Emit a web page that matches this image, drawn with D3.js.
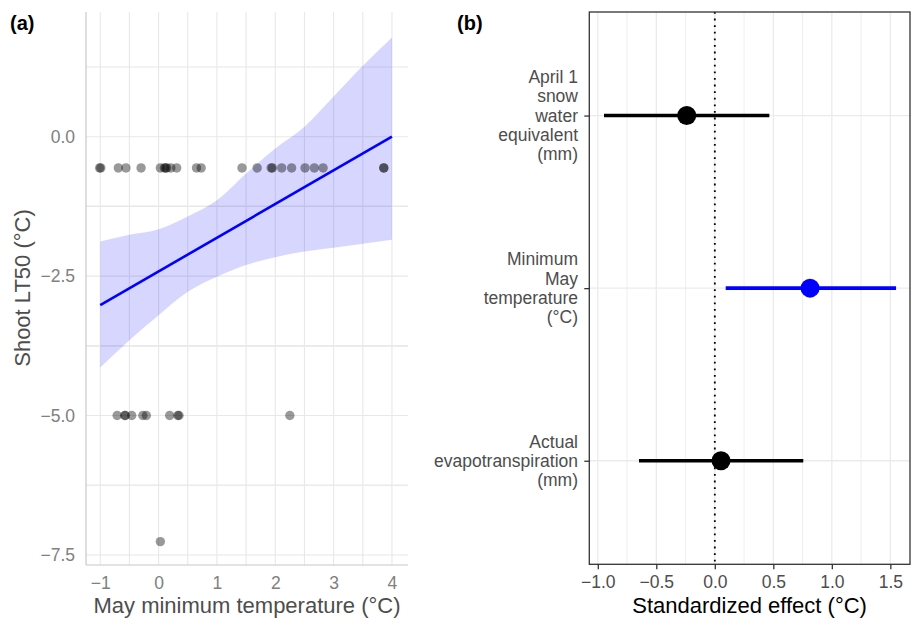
<!DOCTYPE html>
<html>
<head>
<meta charset="utf-8">
<script src="https://cdn.jsdelivr.net/npm/d3@7"></script>
<style>
	body { margin: 0; background: #fff; }
	text { font-family: "Liberation Sans", Arial, sans-serif; }
</style>
</head>
<body>
<script>
//panel (a) data: shoot LT50 vs May minimum temperature
var mayTemp = [-1.01, -0.99, -0.69, -0.56, -0.30, 0.03, 0.10, 0.12, 0.14, 0.21, 0.31, 0.65, 0.73,
	1.43, 1.69, 1.93, 1.95, 2.11, 2.28, 2.51, 2.67, 2.82, 3.86, 3.86,
	-0.71, -0.58, -0.57, -0.46, -0.27, -0.21, 0.19, 0.33, 0.35, 2.25,
	0.03];
var shootLT50 = [-0.56, -0.56, -0.56, -0.56, -0.56, -0.56, -0.56, -0.56, -0.56, -0.56, -0.56, -0.56, -0.56,
	-0.56, -0.56, -0.56, -0.56, -0.56, -0.56, -0.56, -0.56, -0.56, -0.56, -0.56,
	-5.0, -5.0, -5.0, -5.0, -5.0, -5.0, -5.0, -5.0, -5.0, -5.0,
	-7.26];
//fitted line and confidence band
var fitX = [-1, 4];
var fitY = [-3.02, 0.0];
var bandX = [-1, -0.5, 0, 0.5, 1, 1.5, 2, 2.5, 3, 3.5, 4];
var bandHigh = [-1.88, -1.76, -1.66, -1.43, -1.14, -0.66, -0.21, 0.18, 0.72, 1.27, 1.78];
var bandLow = [-4.14, -3.65, -3.20, -2.78, -2.51, -2.30, -2.16, -2.06, -1.99, -1.92, -1.85];
var aXTicks = [-1, 0, 1, 2, 3, 4];
var aYTicks = [0, -2.5, -5, -7.5];

//panel (b) data: standardized effects
var effectNames = ["April 1 snow water equivalent (mm)", "Minimum May temperature (°C)", "Actual evapotranspiration (mm)"];
var effectLines = [["April 1", "snow", "water", "equivalent", "(mm)"],
	["Minimum", "May", "temperature", "(°C)"],
	["Actual", "evapotranspiration", "(mm)"]];
var effectEst = [-0.24, 0.814, 0.053];
var effectLow = [-0.947, 0.093, -0.648];
var effectHigh = [0.466, 1.549, 0.756];
var effectColor = ["black", "blue", "black"];
var bXTicks = [-1.0, -0.5, 0.0, 0.5, 1.0, 1.5];

window.onload = drawFigure();

function drawFigure(){
	var width = 917,
		height = 619;

	var svg = d3.select("body")
		.append("svg")
		.attr("width", width)
		.attr("height", height);

	//----- panel (a) -----
	var xA = d3.scaleLinear().domain([-1.244, 4.275]).range([86, 408]);
	var yA = d3.scaleLinear().domain([-7.68, 2.236]).range([565, 12]);

	var a = svg.append("g").attr("class", "panelA");

	//grid lines, majors plus the halfway minors
	var aXGrid = [];
	aXTicks.forEach(function(t, i){
		aXGrid.push(t);
		if (i < aXTicks.length - 1) aXGrid.push((t + aXTicks[i + 1]) / 2);
	});
	var aYGrid = aYTicks.slice();
	aYTicks.forEach(function(t){ aYGrid.push(t - 1.25); aYGrid.push(t + 1.25); });
	aYGrid = aYGrid.filter(function(v){ return v > -7.68 && v < 2.236; });

	a.selectAll(".xgrid")
		.data(aXGrid)
		.enter()
		.append("line")
		.attr("x1", function(d){ return xA(d); })
		.attr("x2", function(d){ return xA(d); })
		.attr("y1", 12)
		.attr("y2", 565)
		.attr("stroke", "#e8e8e8")
		.attr("stroke-width", 1.1);
	a.selectAll(".ygrid")
		.data(aYGrid)
		.enter()
		.append("line")
		.attr("x1", 86)
		.attr("x2", 408)
		.attr("y1", function(d){ return yA(d); })
		.attr("y2", function(d){ return yA(d); })
		.attr("stroke", "#e8e8e8")
		.attr("stroke-width", 1.1);

	//confidence band
	var area = d3.area()
		.x(function(d, i){ return xA(bandX[i]); })
		.y0(function(d, i){ return yA(bandLow[i]); })
		.y1(function(d, i){ return yA(bandHigh[i]); })
		.curve(d3.curveMonotoneX);
	a.append("path")
		.datum(bandX)
		.attr("d", area)
		.attr("fill", "blue")
		.attr("fill-opacity", 0.16);

	//points
	a.selectAll(".pt")
		.data(mayTemp)
		.enter()
		.append("circle")
		.attr("cx", function(d){ return xA(d); })
		.attr("cy", function(d, i){ return yA(shootLT50[i]); })
		.attr("r", 4.7)
		.attr("fill", "black")
		.attr("fill-opacity", 0.4);

	//fitted line
	var line = d3.line()
		.x(function(d, i){ return xA(fitX[i]); })
		.y(function(d, i){ return yA(fitY[i]); });
	a.append("path")
		.datum(fitX)
		.attr("d", line)
		.attr("fill", "none")
		.attr("stroke", "blue")
		.attr("stroke-width", 2.6);

	//axis lines
	a.append("line").attr("x1", 86).attr("x2", 86).attr("y1", 12).attr("y2", 565)
		.attr("stroke", "#c8c8c8").attr("stroke-width", 1.2);
	a.append("line").attr("x1", 86).attr("x2", 408).attr("y1", 565).attr("y2", 565)
		.attr("stroke", "#c8c8c8").attr("stroke-width", 1.2);

	//tick labels
	var axA = a.append("g")
		.attr("transform", "translate(0,565)")
		.call(d3.axisBottom(xA).tickValues(aXTicks).tickSize(0).tickPadding(12).tickFormat(d3.format("d")));
	var ayA = a.append("g")
		.attr("transform", "translate(86,0)")
		.call(d3.axisLeft(yA).tickValues(aYTicks).tickSize(0).tickPadding(11).tickFormat(d3.format(".1f")));
	[axA, ayA].forEach(function(g){
		g.select(".domain").remove();
		g.selectAll("text")
			.attr("fill", "#808080")
			.style("font-size", "17.5px")
			.style("font-family", "'Liberation Sans', Arial, sans-serif");
	});

	//axis titles
	a.append("text")
		.attr("x", 247)
		.attr("y", 613)
		.attr("text-anchor", "middle")
		.attr("fill", "#4d4d4d")
		.style("font-size", "22px")
		.text("May minimum temperature (°C)");
	a.append("text")
		.attr("transform", "translate(30,288) rotate(-90)")
		.attr("text-anchor", "middle")
		.attr("fill", "#4d4d4d")
		.style("font-size", "22px")
		.text("Shoot LT50 (°C)");

	svg.append("text")
		.attr("x", 10)
		.attr("y", 30)
		.style("font-size", "20px")
		.style("font-weight", "bold")
		.text("(a)");

	//----- panel (b) -----
	var xB = d3.scaleLinear().domain([-1.0726, 1.668]).range([589.3, 910]);
	var yB = d3.scalePoint().domain(effectNames).range([12, 564.3]).padding(0.6);

	var b = svg.append("g").attr("class", "panelB");

	//minor vertical grid (quarters), then majors
	var bMinor = bXTicks.slice(0, -1).map(function(t){ return t + 0.25; });
	b.selectAll(".minor")
		.data(bMinor)
		.enter()
		.append("line")
		.attr("x1", function(d){ return xB(d); })
		.attr("x2", function(d){ return xB(d); })
		.attr("y1", 12)
		.attr("y2", 564.3)
		.attr("stroke", "#f0f0f0")
		.attr("stroke-width", 1.1);
	b.selectAll(".major")
		.data(bXTicks)
		.enter()
		.append("line")
		.attr("x1", function(d){ return xB(d); })
		.attr("x2", function(d){ return xB(d); })
		.attr("y1", 12)
		.attr("y2", 564.3)
		.attr("stroke", "#ebebeb")
		.attr("stroke-width", 1.3);
	b.selectAll(".hgrid")
		.data(effectNames)
		.enter()
		.append("line")
		.attr("x1", 589.3)
		.attr("x2", 910)
		.attr("y1", function(d){ return yB(d); })
		.attr("y2", function(d){ return yB(d); })
		.attr("stroke", "#ebebeb")
		.attr("stroke-width", 1.3);

	//zero reference
	b.append("line")
		.attr("x1", xB(0)).attr("x2", xB(0))
		.attr("y1", 12).attr("y2", 564.3)
		.attr("stroke", "black")
		.attr("stroke-width", 1.8)
		.attr("stroke-dasharray", "1.8,4.8");

	//intervals and estimates
	b.selectAll(".ci")
		.data(effectNames)
		.enter()
		.append("line")
		.attr("x1", function(d, i){ return xB(effectLow[i]); })
		.attr("x2", function(d, i){ return xB(effectHigh[i]); })
		.attr("y1", function(d){ return yB(d); })
		.attr("y2", function(d){ return yB(d); })
		.attr("stroke", function(d, i){ return effectColor[i]; })
		.attr("stroke-width", 3.6);
	b.selectAll(".est")
		.data(effectNames)
		.enter()
		.append("circle")
		.attr("cx", function(d, i){ return xB(effectEst[i]); })
		.attr("cy", function(d){ return yB(d); })
		.attr("r", 9.5)
		.attr("fill", function(d, i){ return effectColor[i]; });

	//panel border
	b.append("rect")
		.attr("x", 589.3).attr("y", 12)
		.attr("width", 910 - 589.3).attr("height", 564.3 - 12)
		.attr("fill", "none")
		.attr("stroke", "#333")
		.attr("stroke-width", 1.3);

	//x axis
	var axB = b.append("g")
		.attr("transform", "translate(0,564.3)")
		.call(d3.axisBottom(xB).tickValues(bXTicks).tickSize(5).tickPadding(6).tickFormat(d3.format(".1f")));
	axB.select(".domain").remove();
	axB.selectAll("line").attr("stroke", "#333").attr("stroke-width", 1.3);
	axB.selectAll("text")
		.attr("fill", "#4d4d4d")
		.style("font-size", "17.5px")
		.style("font-family", "'Liberation Sans', Arial, sans-serif");

	//y axis with wrapped labels
	var ayB = b.append("g")
		.attr("transform", "translate(589.3,0)")
		.call(d3.axisLeft(yB).tickSize(5).tickFormat(""));
	ayB.select(".domain").remove();
	ayB.selectAll("line").attr("stroke", "#333").attr("stroke-width", 1.3);

	var lineGap = 19.2;
	effectNames.forEach(function(name, i){
		var lines = effectLines[i];
		var y0 = yB(name) - (lines.length - 1) * lineGap / 2;
		var t = b.append("text")
			.attr("text-anchor", "end")
			.attr("fill", "#4d4d4d")
			.style("font-size", "17.5px");
		lines.forEach(function(s, j){
			t.append("tspan")
				.attr("x", 578)
				.attr("y", y0 + j * lineGap)
				.attr("dy", "0.35em")
				.text(s);
		});
	});

	b.append("text")
		.attr("x", 749.6)
		.attr("y", 613)
		.attr("text-anchor", "middle")
		.attr("fill", "black")
		.style("font-size", "22px")
		.text("Standardized effect (°C)");

	svg.append("text")
		.attr("x", 457)
		.attr("y", 30)
		.style("font-size", "20px")
		.style("font-weight", "bold")
		.text("(b)");
};
</script>
</body>
</html>
